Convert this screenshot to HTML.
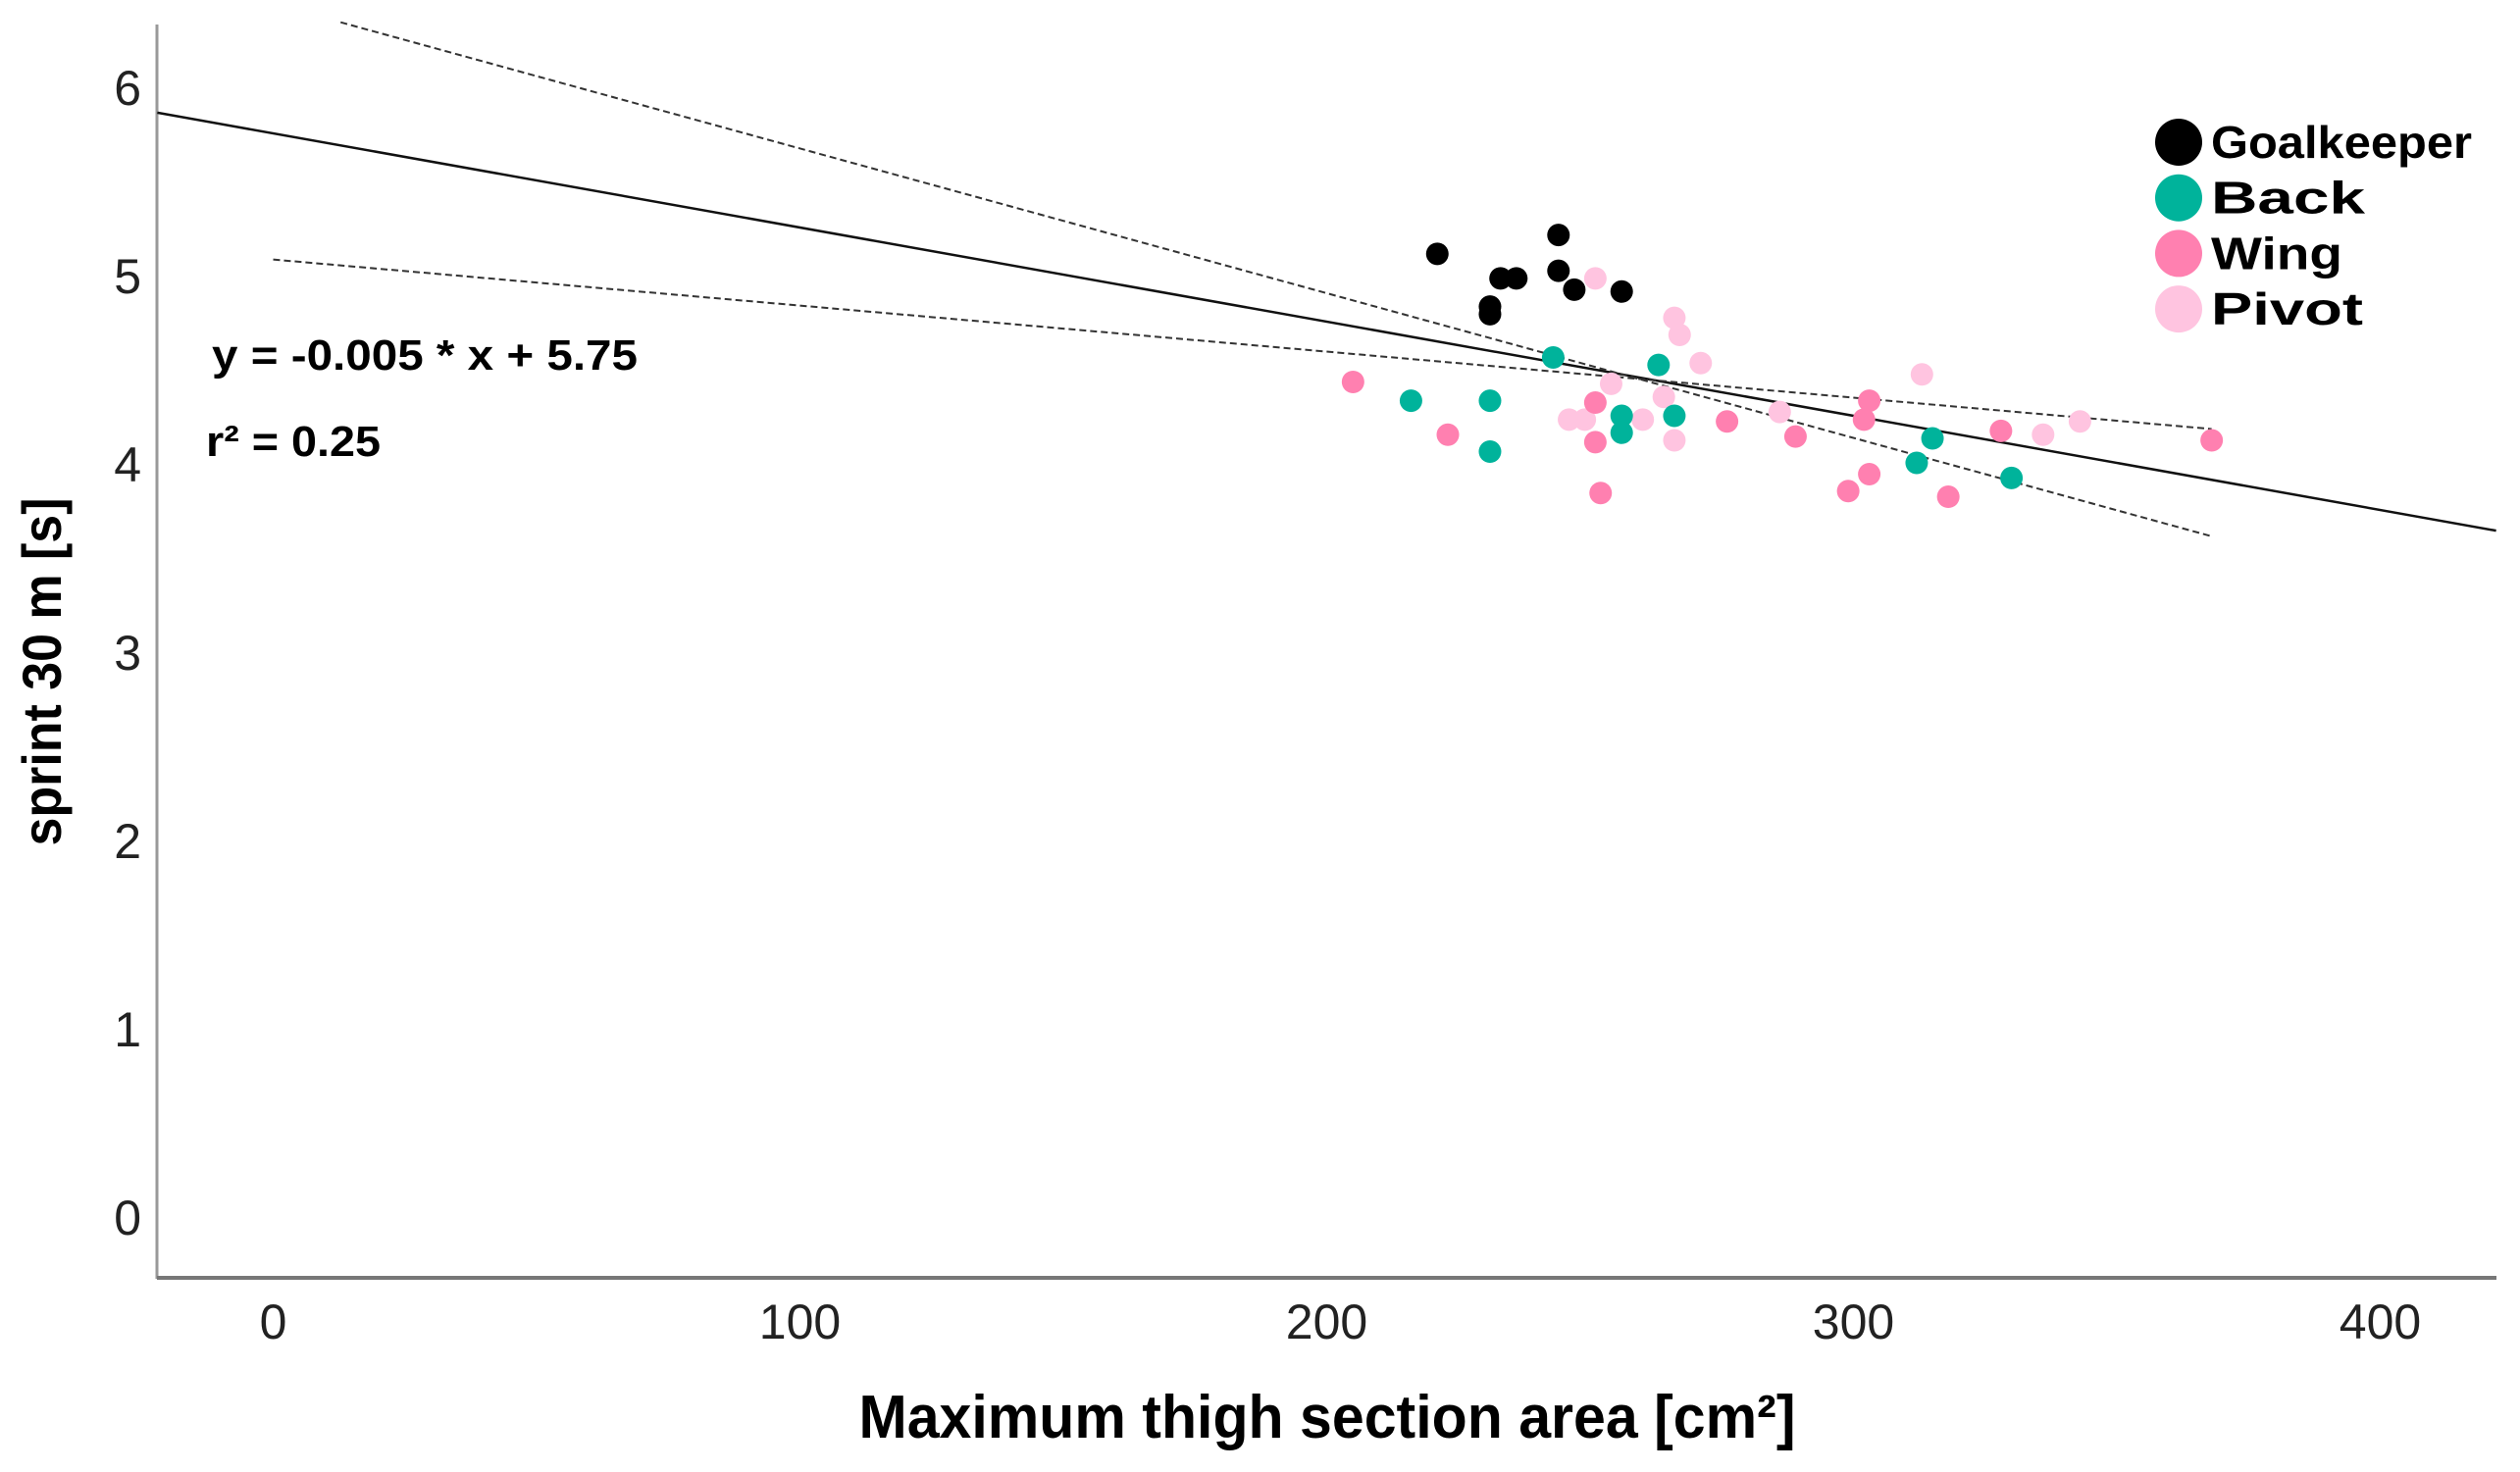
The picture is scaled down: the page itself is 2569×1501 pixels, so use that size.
<!DOCTYPE html>
<html><head><meta charset="utf-8"><style>
html,body{margin:0;padding:0;background:#fff;}
svg{display:block;}
text{font-family:"Liberation Sans",sans-serif;}
</style></head><body>
<svg id="chart" width="2569" height="1501" viewBox="0 0 2569 1501" xmlns="http://www.w3.org/2000/svg">
<g id="axes"></g>
<g id="lines"></g>
<g id="points"></g>
<g id="legend"></g>
<text x="216" y="377" font-size="44" font-weight="bold" textLength="434" lengthAdjust="spacingAndGlyphs">y = -0.005 * x + 5.75</text>
<text x="210" y="465" font-size="44" font-weight="bold" textLength="178" lengthAdjust="spacingAndGlyphs">r² = 0.25</text>
<text x="1353" y="1466" font-size="62" font-weight="bold" text-anchor="middle" textLength="955" lengthAdjust="spacingAndGlyphs">Maximum thigh section area [cm²]</text>
<text transform="translate(62,685) rotate(-90)" font-size="56" font-weight="bold" text-anchor="middle" textLength="355" lengthAdjust="spacingAndGlyphs">sprint 30 m [s]</text>
</svg>
<script>
const xTicks = [0,100,200,300,400];
const yTicks = [0,1,2,3,4,5,6];
const categories = ["Goalkeeper","Back","Wing","Pivot"];
const colors = ["#000000","#00b39b","#ff80b0","#ffc4e0"];
const goalX = [221,231,231,233,236,244,244,247,256];
const goalY = [5.11,4.83,4.79,4.98,4.98,5.21,5.02,4.92,4.91];
const backX = [216,231,231,243,256,256,263,266,312,315,330];
const backY = [4.33,4.33,4.06,4.56,4.25,4.16,4.52,4.25,4.00,4.13,3.92];
const wingX = [205,223,251,251,252,276,289,299,302,303,303,318,328,368];
const wingY = [4.43,4.15,4.32,4.11,3.84,4.22,4.14,3.85,4.23,4.33,3.94,3.82,4.17,4.12];
const pivotX = [251,246,249,254,260,264,266,267,266,271,286,313,336,343];
const pivotY = [4.98,4.23,4.23,4.42,4.23,4.35,4.77,4.68,4.12,4.53,4.27,4.47,4.15,4.22];
const fitSlope = -0.005;
const fitIntercept = 5.75;
const fitRange = [-22,422];
const ciAX = [12.8,368];
const ciAY = [6.34,3.61];
const ciBX = [0,368];
const ciBY = [5.08,4.18];

const NS="http://www.w3.org/2000/svg";
const sx = v => 278.5 + v*5.37;
const sy = v => 1240 - v*192;
function mk(tag, attrs, parent){const e=document.createElementNS(NS,tag);for(const k in attrs)e.setAttribute(k,attrs[k]);parent.appendChild(e);return e;}
const axes=document.getElementById('axes');
let e;
e=mk('line',{x1:160,y1:25,x2:160,y2:1304,stroke:'#999','stroke-width':3},axes);


e=mk('line',{x1:160,y1:1303,x2:2545,y2:1303,stroke:'#777','stroke-width':4},axes);


xTicks.forEach(t=>{
  e=mk('text',{x:sx(t),y:1365,'font-size':50,'text-anchor':'middle',fill:'#222','font-weight':'300'},axes);
  e.textContent=t;
  
  
});
yTicks.forEach(t=>{
  e=mk('text',{x:144,y:sy(t)+19,'font-size':50,'text-anchor':'end',fill:'#222'},axes);
  e.textContent=t;
  
  
});
const lines=document.getElementById('lines');
e=mk('line',{x1:sx(fitRange[0]),y1:sy(fitIntercept+fitSlope*fitRange[0]),x2:sx(fitRange[1]),y2:sy(fitIntercept+fitSlope*fitRange[1]),stroke:'#111','stroke-width':2.5},lines);


e=mk('line',{x1:sx(ciAX[0]),y1:sy(ciAY[0]),x2:sx(ciAX[1]),y2:sy(ciAY[1]),stroke:'#333','stroke-width':2,'stroke-dasharray':'7 4'},lines);


e=mk('line',{x1:sx(ciBX[0]),y1:sy(ciBY[0]),x2:sx(ciBX[1]),y2:sy(ciBY[1]),stroke:'#333','stroke-width':2,'stroke-dasharray':'7 4'},lines);


const pts=document.getElementById('points');
const series=[[goalX,goalY],[backX,backY],[wingX,wingY],[pivotX,pivotY]];
[3,2,1,0].forEach(i=>{
  const [xs,ys]=series[i];
  xs.forEach((x,j)=>{
    e=mk('circle',{cx:sx(x),cy:sy(ys[j]),r:11.5,fill:colors[i]},pts);
    
    
  });
});
const leg=document.getElementById('legend');
const legW=[266,157,134,155];
categories.forEach((c,i)=>{
  const y=145+i*56.7;
  e=mk('circle',{cx:2221,cy:y,r:24,fill:colors[i]},leg);
  
  
  e=mk('text',{x:2254,y:y+16,'font-size':46,'font-weight':'bold',textLength:legW[i],lengthAdjust:'spacingAndGlyphs'},leg);
  e.textContent=c;
  
  
});
</script>
</body></html>
